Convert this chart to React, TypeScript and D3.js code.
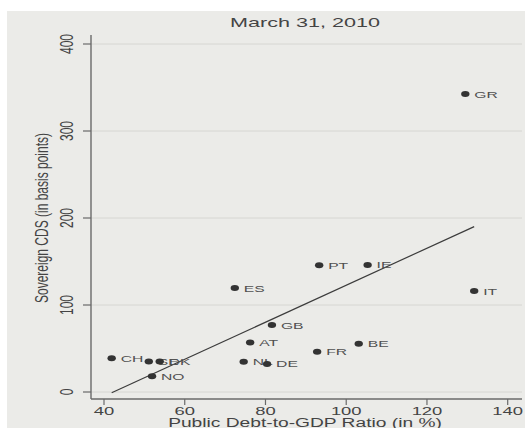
import React from "react";
import * as d3 from "d3";

// country codes and values
const countries = ["GR", "IT", "PT", "IE", "ES", "GB", "AT", "FR", "BE", "NL", "DE", "CH", "SE", "DK", "NO"];
const debtRatio = [129.5, 131.7, 93.3, 105.3, 72.4, 81.6, 76.2, 92.8, 103.1, 74.6, 80.4, 41.9, 51.1, 53.8, 51.9];
const cdsSpread = [342.5, 116, 145.6, 146, 119.5, 77, 57, 46.3, 55.5, 34.8, 32.2, 38.7, 35.2, 35.2, 18];

const xTicks = [40, 60, 80, 100, 120, 140];
const yTicks = [0, 100, 200, 300, 400];

// fitted line y = a + b * x
const fitIntercept = -90;
const fitSlope = 2.127;

const title = "March 31, 2010";
const xTitle = "Public Debt-to-GDP Ratio (in %)";
const yTitle = "Sovereign CDS (in basis points)";

const W = 525;
const H = 428;
const SX = 1.6; // the picture is stretched sideways

export default function App() {
  const x = d3.scaleLinear().domain([40, 140]).range([104, 507.7]);
  const y = d3.scaleLinear().domain([0, 400]).range([392, 44]);

  const axisX = 91;
  const axisY = 399;

  const xMin = d3.min(debtRatio) as number;
  const xMax = d3.max(debtRatio) as number;
  const fit = d3
    .line<number>()
    .x((d) => x(d))
    .y((d) => y(fitIntercept + fitSlope * d));

  const ink = "#333333";
  const textCol = "#444444";
  const font = "Liberation Sans, Arial, sans-serif";

  return (
    <svg
      width={W}
      height={H}
      style={{ position: "absolute", left: 0, top: 0, display: "block" }}
      fontFamily={font}
    >
      <rect x={0} y={0} width={W} height={H} fill="#ffffff" />
      <rect x={7} y={11} width={W - 7} height={H - 11} fill="#ebebe8" />

      {/* gridlines */}
      {yTicks.map((t) => (
        <line key={"g" + t} x1={axisX} x2={522} y1={y(t)} y2={y(t)} stroke="#d6d6d2" strokeWidth={1} />
      ))}

      {/* axes */}
      <line x1={axisX} x2={axisX} y1={35} y2={axisY} stroke="#6a6a6a" strokeWidth={1.4} />
      <line x1={axisX} x2={522} y1={axisY} y2={axisY} stroke="#6a6a6a" strokeWidth={1.4} />

      {yTicks.map((t) => (
        <g key={"y" + t}>
          <line x1={axisX - 8} x2={axisX} y1={y(t)} y2={y(t)} stroke="#6a6a6a" strokeWidth={1.2} />
          <text
            transform={`translate(73,${y(t)}) scale(${SX},1) rotate(-90)`}
            textAnchor="middle"
            fontSize={12}
            fill={textCol}
          >
            {t}
          </text>
        </g>
      ))}

      {xTicks.map((t) => (
        <g key={"x" + t}>
          <line x1={x(t)} x2={x(t)} y1={axisY} y2={axisY + 6} stroke="#6a6a6a" strokeWidth={1.2} />
          <text
            transform={`translate(${x(t)},415) scale(${SX},1)`}
            textAnchor="middle"
            fontSize={11.5}
            fill={textCol}
          >
            {t}
          </text>
        </g>
      ))}

      {/* titles */}
      <text transform={`translate(305,27) scale(${SX},1)`} textAnchor="middle" fontSize={13.5} fill={textCol}>
        {title}
      </text>
      <text transform={`translate(305,427) scale(${SX},1)`} textAnchor="middle" fontSize={12} fill={textCol}>
        {xTitle}
      </text>
      <text
        transform={`translate(48,218) scale(${SX},1) rotate(-90)`}
        textAnchor="middle"
        fontSize={12}
        fill={textCol}
      >
        {yTitle}
      </text>

      {/* fitted line */}
      <path d={fit([xMin, xMax]) || ""} fill="none" stroke="#3c3c3c" strokeWidth={1.2} />

      {/* points */}
      {countries.map((c, i) => (
        <g key={c}>
          <ellipse cx={x(debtRatio[i])} cy={y(cdsSpread[i])} rx={4.2} ry={3} fill={ink} />
          <text
            transform={`translate(${x(debtRatio[i]) + 9},${y(cdsSpread[i]) + 3.5}) scale(${SX},1)`}
            fontSize={9.8}
            fill="#505050"
          >
            {c}
          </text>
        </g>
      ))}
    </svg>
  );
}
